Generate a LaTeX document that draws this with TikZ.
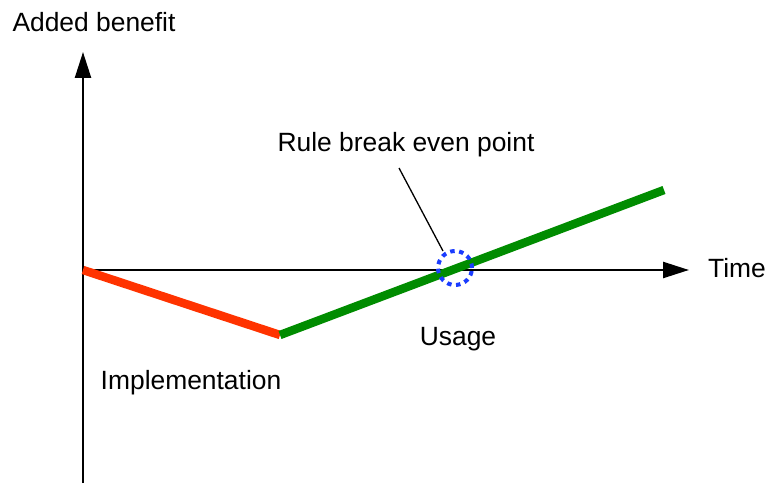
\documentclass[tikz,border=0pt]{standalone}
\usepackage{fontspec}
\setmainfont{Liberation Sans}
\usetikzlibrary{arrows.meta}
\definecolor{implred}{HTML}{FF3300}
\definecolor{usegreen}{HTML}{008C00}
\definecolor{markblue}{HTML}{1A3CFF}
\begin{document}
\begin{tikzpicture}[x=1bp,y=-1bp,
  axis/.style={line width=2.4bp,-{Triangle[length=26bp,width=16bp]}},
  phase/.style={line width=8.5bp},
  lbl/.style={font=\fontsize{26.5}{30}\selectfont,inner sep=0pt,anchor=base},
  leader/.style={line width=1.3bp},
  breakmark/.style={draw=markblue,line width=4bp,dash pattern=on 4.5bp off 4.5bp}]
\useasboundingbox (0,0) rectangle (771,484);
% axes
\coordinate (origin) at (83,270);
\coordinate (ybase) at (83,483);
\coordinate (ytip) at (83,52);
\coordinate (xtip) at (689,270);
\draw[axis] (ybase) -- (ytip);
\draw[axis] (origin) -- (xtip);
% phases
\coordinate (low) at (280,335);
\coordinate (high) at (664,190);
\draw[phase,implred] (origin) -- (low);
\draw[phase,usegreen] (low) -- (high);
% break even point
\node[breakmark,circle,minimum size=34bp,inner sep=0pt] (be) at (455,268) {};
\node[lbl] (ruletxt) at (406,152) {Rule break even point};
\coordinate (leadstart) at (399,168);
\draw[leader] (leadstart) -- (443,251);
% labels
\node[lbl] (ylbl) at (94,32) {Added benefit};
\node[lbl] (xlbl) at (737,278) {Time};
\node[lbl] (usage) at (458,345) {Usage};
\node[lbl] (impl) at (191,389) {Implementation};
\end{tikzpicture}
\end{document}
